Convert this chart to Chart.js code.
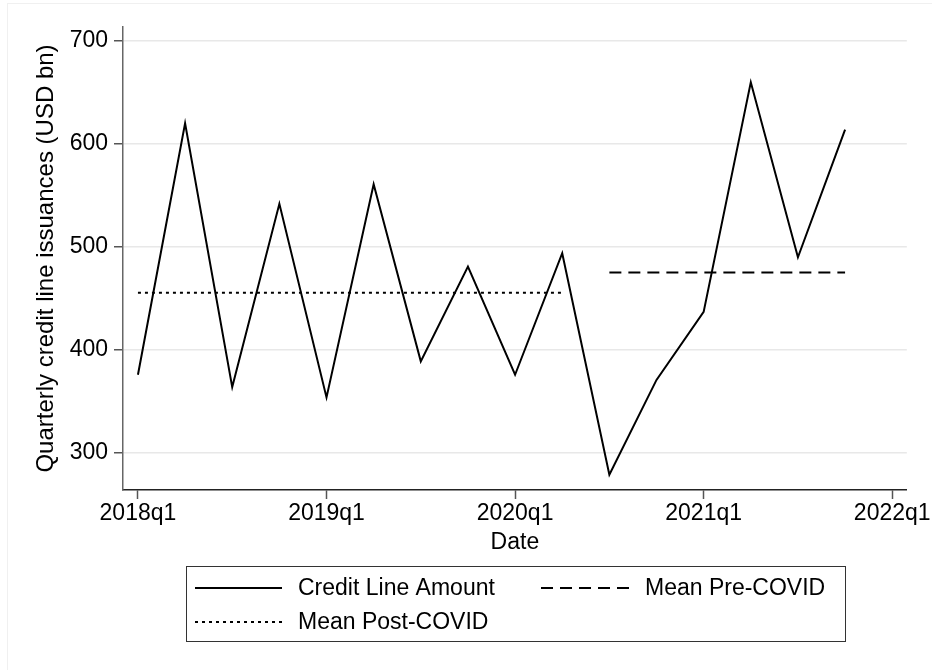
<!DOCTYPE html>
<html>
<head>
<meta charset="utf-8">
<script src="https://cdn.jsdelivr.net/npm/chart.js@4.4.1/dist/chart.umd.min.js"></script>
<style>
  html, body { margin: 0; padding: 0; background: #fff; }
  #wrap { position: relative; width: 932px; height: 670px; }
  #frame { position: absolute; left: 7px; top: 3px; right: 0; bottom: 0; border-left: 1px solid #f0f0f0; border-top: 1px solid #f0f0f0; }
  canvas { position: absolute; left: 0; top: 0; }
</style>
</head>
<body>
<div id="wrap">
  <div id="frame"></div>
  <canvas id="myChart" width="932" height="670"></canvas>
</div>
<script>
// quarterly data, 2018q1 .. 2021q4
const quarters = ["2018q1", "2018q2", "2018q3", "2018q4", "2019q1", "2019q2", "2019q3", "2019q4",
  "2020q1", "2020q2", "2020q3", "2020q4", "2021q1", "2021q2", "2021q3", "2021q4"];
const creditLine = [376, 620, 364, 542, 354, 561, 389, 481, 376, 494, 279, 371, 437, 660, 490, 614];

// mean lines: [first quarter index, last quarter index]
const meanPostCovid = 455.7;
const meanPostRange = [0, 9];
const meanPreCovid = 475.3;
const meanPreRange = [10, 15];

const xTicks = [0, 4, 8, 12, 16];
const xTickLabels = ["2018q1", "2019q1", "2020q1", "2021q1", "2022q1"];
const yTicks = [300, 400, 500, 600, 700];

const FONT = "'Liberation Sans', Arial, Helvetica, sans-serif";

const legendPlugin = {
  id: "boxLegend",
  afterDraw(chart) {
    const ctx = chart.ctx;
    ctx.save();
    ctx.strokeStyle = "#333";
    ctx.lineWidth = 1;
    ctx.setLineDash([]);
    ctx.strokeRect(186.5, 566.5, 659, 75);

    const items = [
      { x: 195, y: 588, w: 87, dash: [], text: "Credit Line Amount" },
      { x: 541, y: 588, w: 88, dash: [12, 7], text: "Mean Pre-COVID" },
      { x: 195, y: 622, w: 87, dash: [3, 4], text: "Mean Post-COVID" },
    ];
    ctx.font = "23px " + FONT;
    ctx.textBaseline = "middle";
    ctx.fillStyle = "#000";
    items.forEach((it) => {
      ctx.beginPath();
      ctx.setLineDash(it.dash);
      ctx.lineWidth = 2;
      ctx.strokeStyle = "#000";
      ctx.moveTo(it.x, it.y);
      ctx.lineTo(it.x + it.w, it.y);
      ctx.stroke();
      ctx.setLineDash([]);
      ctx.fillText(it.text, it.x + it.w + 16, it.y + 1);
    });
    ctx.restore();
  },
};

const ctx = document.getElementById("myChart").getContext("2d");
const myChart = new Chart(ctx, {
  type: "line",
  data: {
    datasets: [
      {
        label: "Credit Line Amount",
        data: creditLine.map((v, i) => ({ x: i, y: v })),
        borderColor: "#000",
        borderWidth: 2,
        pointRadius: 0,
        tension: 0,
      },
      {
        label: "Mean Pre-COVID",
        data: meanPreRange.map((i) => ({ x: i, y: meanPreCovid })),
        borderColor: "#000",
        borderWidth: 2,
        borderDash: [12, 7],
        pointRadius: 0,
      },
      {
        label: "Mean Post-COVID",
        data: meanPostRange.map((i) => ({ x: i, y: meanPostCovid })),
        borderColor: "#000",
        borderWidth: 2,
        borderDash: [3, 4],
        pointRadius: 0,
      },
    ],
  },
  options: {
    responsive: false,
    animation: false,
    layout: { padding: { top: 27, right: 22, bottom: 110, left: 0 } },
    plugins: {
      legend: { display: false },
      tooltip: { enabled: false },
    },
    scales: {
      x: {
        type: "linear",
        min: -0.317,
        max: 16.31,
        afterBuildTicks: (scale) => {
          scale.ticks = xTicks.map((v) => ({ value: v }));
        },
        afterFit: (scale) => {
          scale.height = 70;
        },
        ticks: {
          callback: (v) => xTickLabels[xTicks.indexOf(v)],
          font: { family: FONT, size: 23 },
          color: "#000",
          padding: 1,
          maxRotation: 0,
          autoSkip: false,
        },
        grid: {
          drawOnChartArea: false,
          tickLength: 9,
          tickColor: "#555",
          tickWidth: 1.5,
        },
        border: { color: "#222", width: 1.5 },
        title: {
          display: true,
          text: "Date",
          font: { family: FONT, size: 23 },
          color: "#000",
          padding: { top: 0, bottom: 4 },
        },
      },
      y: {
        type: "linear",
        min: 264.1,
        max: 713.6,
        afterBuildTicks: (scale) => {
          scale.ticks = yTicks.map((v) => ({ value: v }));
        },
        afterFit: (scale) => {
          scale.width = 123;
        },
        ticks: {
          font: { family: FONT, size: 23 },
          color: "#000",
          padding: 6,
        },
        grid: {
          color: "#e8e8e8",
          lineWidth: 1.5,
          tickLength: 9,
          tickColor: "#555",
          tickWidth: 1.5,
        },
        border: { color: "#666", width: 1.5 },
        title: {
          display: true,
          text: "Quarterly credit line issuances (USD bn)",
          font: { family: FONT, size: 24 },
          color: "#000",
          padding: { top: 32, bottom: 0 },
        },
      },
    },
  },
  plugins: [legendPlugin],
});
</script>
</body>
</html>
